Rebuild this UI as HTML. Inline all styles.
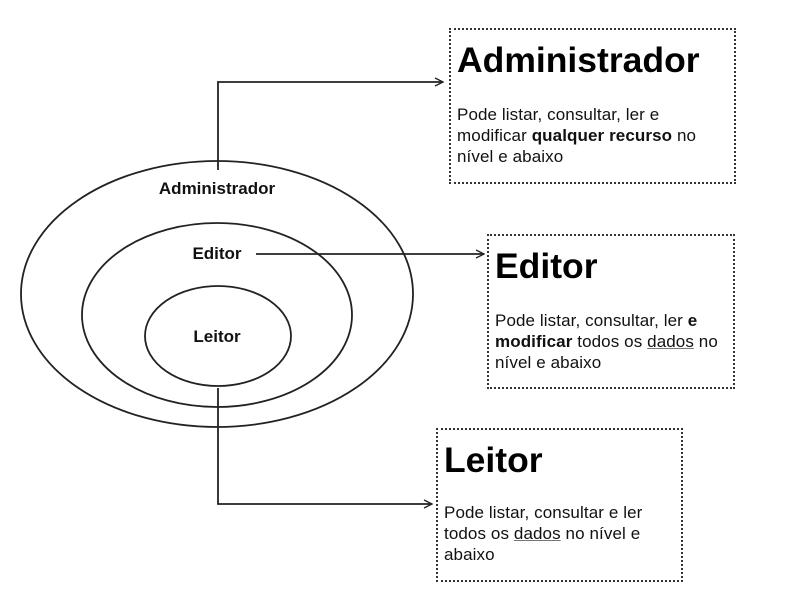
<!DOCTYPE html>
<html><head><style>
body{margin:0;width:792px;height:601px;background:#fff;position:relative;font-family:"Liberation Sans",sans-serif;overflow:hidden}
.box{position:absolute;border:2px dotted #333;box-sizing:border-box;padding:10px 6px}
.box h1{margin:0;font-size:35.5px;font-weight:bold;line-height:40px;color:#000}
.box p{margin:0;font-size:17px;line-height:21px;color:#111;white-space:nowrap;letter-spacing:0.1px}
.lbl{position:absolute;font-size:17px;font-weight:bold;color:#111;transform:translateX(-50%);line-height:20px}
u{text-decoration-color:#777}
</style></head><body>
<svg width="792" height="601" style="position:absolute;left:0;top:0">
<defs><marker id="a" markerWidth="10" markerHeight="10" refX="9" refY="5" orient="auto" markerUnits="userSpaceOnUse"><path d="M1,1 L9,5 L1,9" fill="none" stroke="#222" stroke-width="1.3"/></marker></defs>
<g fill="none" stroke="#222" stroke-width="1.8">
<ellipse cx="217" cy="294" rx="196" ry="133"/>
<ellipse cx="217" cy="315" rx="135" ry="92"/>
<ellipse cx="218" cy="336" rx="73" ry="50"/>
<path d="M218,170 V82 H443" marker-end="url(#a)"/>
<path d="M256,254 H484" marker-end="url(#a)"/>
<path d="M218,388 V504 H432" marker-end="url(#a)"/>
</g></svg>
<div class="lbl" style="left:217px;top:179px">Administrador</div>
<div class="lbl" style="left:217px;top:244px">Editor</div>
<div class="lbl" style="left:217px;top:327px">Leitor</div>
<div class="box" style="left:449px;top:28px;width:287px;height:156px">
<h1>Administrador</h1><p style="margin-top:24px">Pode listar, consultar, ler e<br>modificar <b>qualquer recurso</b> no<br>nível e abaixo</p></div>
<div class="box" style="left:487px;top:234px;width:248px;height:155px">
<h1>Editor</h1><p style="margin-top:24px">Pode listar, consultar, ler <b>e</b><br><b>modificar</b> todos os <u>dados</u> no<br>nível e abaixo</p></div>
<div class="box" style="left:436px;top:428px;width:247px;height:154px">
<h1>Leitor</h1><p style="margin-top:22px">Pode listar, consultar e ler<br>todos os <u>dados</u> no nível e<br>abaixo</p></div>
</body></html>
